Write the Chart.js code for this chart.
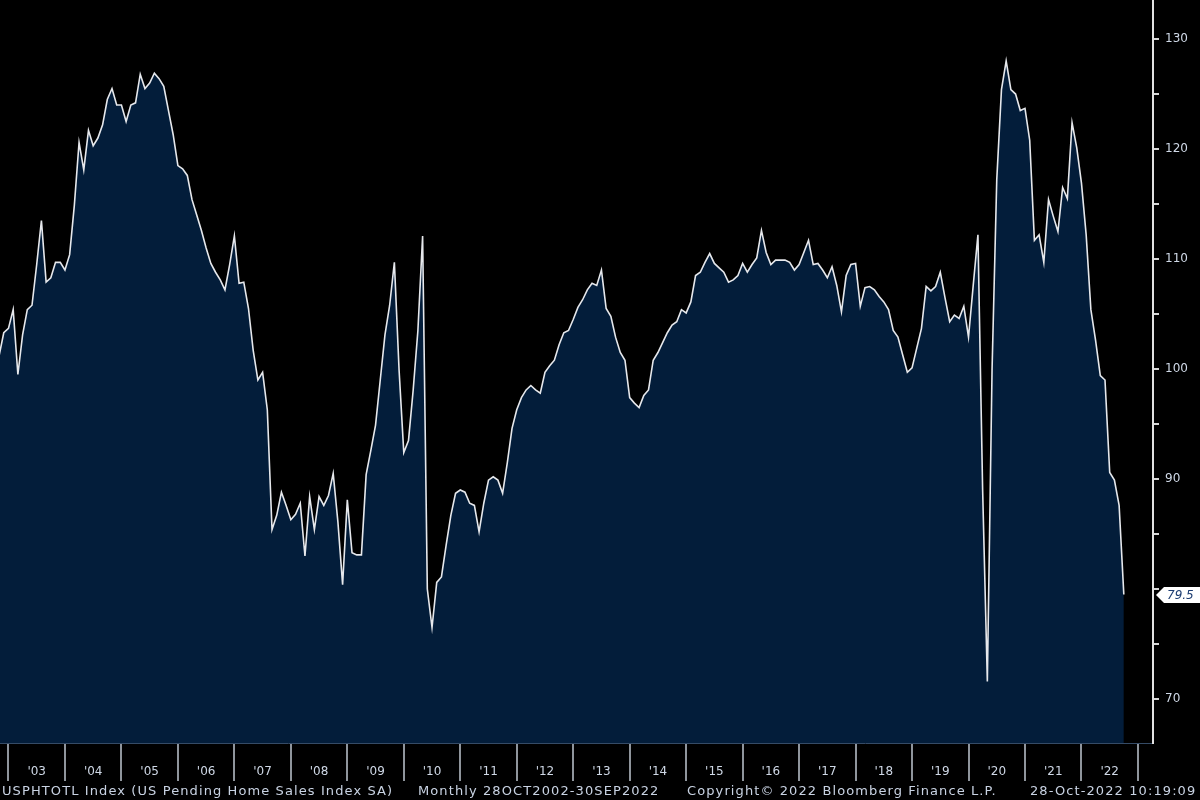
<!DOCTYPE html>
<html><head><meta charset="utf-8">
<script src="https://cdn.jsdelivr.net/npm/chart.js@4.4.1/dist/chart.umd.min.js"></script>
<style>
html,body{margin:0;padding:0;background:#000;width:1200px;height:800px;overflow:hidden}
#wrap{position:relative;width:1200px;height:800px}
canvas{display:block}
.ft{position:absolute;top:783px;font:13px "DejaVu Sans",sans-serif;letter-spacing:1.1px;color:#c9d3e3;white-space:nowrap;line-height:16px}
</style></head><body>
<div id="wrap"><canvas id="c" width="1200" height="800"></canvas>
<span class="ft" style="left:2px">USPHTOTL Index (US Pending Home Sales Index SA)</span>
<span class="ft" style="left:418px">Monthly 28OCT2002-30SEP2022</span>
<span class="ft" style="left:687px">Copyright© 2022 Bloomberg Finance L.P.</span>
<span class="ft" style="left:1030px">28-Oct-2022 10:19:09</span>
</div>
<script>
// Monthly series, first point Oct 2002, last point Sep 2022
const firstMonth = '2002-10';
const values = [
101.2,103.3,103.7,105.4,99.5,103.1,105.4,105.8,109.5,113.5,107.9,108.3,
109.7,109.7,109.0,110.4,114.9,120.6,118.1,121.7,120.3,121.0,122.2,124.5,
125.5,124.0,124.0,122.5,124.0,124.2,126.8,125.5,126.0,126.9,126.4,125.7,
123.5,121.3,118.5,118.2,117.6,115.4,114.0,112.6,111.0,109.6,108.8,108.1,
107.2,109.5,112.1,107.8,107.9,105.5,101.7,99.0,99.7,96.3,85.4,86.7,
88.8,87.6,86.3,86.8,87.8,83.0,88.4,85.4,88.4,87.6,88.5,90.5,
86.1,80.4,88.1,83.3,83.1,83.1,90.4,92.6,94.9,99.0,103.1,105.8,
109.7,99.9,92.4,93.5,98.1,103.5,112.1,80.0,76.5,80.6,81.1,84.0,
86.7,88.7,89.0,88.8,87.8,87.6,85.2,87.8,89.9,90.2,89.9,88.7,
91.5,94.6,96.3,97.4,98.1,98.5,98.1,97.8,99.7,100.3,100.8,102.2,
103.3,103.5,104.5,105.6,106.3,107.2,107.8,107.6,109.0,105.5,104.8,102.9,
101.5,100.8,97.4,96.9,96.5,97.6,98.1,100.8,101.5,102.4,103.3,104.0,
104.3,105.4,105.1,106.1,108.5,108.8,109.7,110.5,109.6,109.2,108.8,107.9,
108.1,108.5,109.6,108.8,109.5,110.1,112.6,110.6,109.5,109.9,109.9,109.9,
109.7,109.0,109.5,110.6,111.7,109.5,109.6,109.0,108.3,109.3,107.6,105.2,
108.5,109.5,109.6,105.7,107.4,107.5,107.2,106.6,106.1,105.4,103.5,102.9,
101.3,99.7,100.1,101.9,103.7,107.5,107.1,107.5,108.8,106.5,104.3,104.9,
104.6,105.7,102.9,107.6,112.2,89.0,71.6,99.9,117.2,125.4,128.0,125.4,
125.0,123.5,123.7,120.8,111.7,112.2,109.7,115.4,113.9,112.5,116.5,115.5,
122.4,120.1,116.9,112.2,105.4,102.6,99.4,99.0,90.6,89.9,87.6,79.5
];
const yearLabels = ["'03","'04","'05","'06","'07","'08","'09","'10","'11","'12",
                    "'13","'14","'15","'16","'17","'18","'19","'20","'21","'22"];
const yTicks = [70,75,80,85,90,95,100,105,110,115,120,125,130];

// month index of each Jan 1 (separator) relative to first point (Oct 2002 month-end)
const sepIndex = k => 2 + 12 * k;
const midIndex = k => 8 + 12 * k;
const isSep = v => Math.abs(((v - 2) % 12)) < 1e-6;
const lastValue = values[values.length - 1];

const points = values.map((v, i) => ({x: i, y: v}));

const lastTag = {
  id: 'lastTag',
  afterDraw(chart) {
    const ctx = chart.ctx;
    const ys = chart.scales.y;
    const y = Math.round(ys.getPixelForValue(lastValue));
    const x0 = ys.left + 3;
    ctx.save();
    ctx.fillStyle = '#ffffff';
    ctx.beginPath();
    ctx.moveTo(x0, y);
    ctx.lineTo(x0 + 8, y - 8);
    ctx.lineTo(1200, y - 8);
    ctx.lineTo(1200, y + 8);
    ctx.lineTo(x0 + 8, y + 8);
    ctx.closePath();
    ctx.fill();
    ctx.fillStyle = '#1d3d72';
    ctx.font = 'italic 12px "DejaVu Sans", sans-serif';
    ctx.textBaseline = 'middle';
    ctx.textAlign = 'left';
    ctx.fillText(lastValue.toFixed(1), x0 + 11, y + 1);
    ctx.restore();
  }
};

new Chart(document.getElementById('c'), {
  type: 'line',
  data: {
    datasets: [{
      data: points,
      borderColor: '#e6e8ec',
      borderWidth: 1.6,
      backgroundColor: '#031d3a',
      fill: 'start',
      pointRadius: 0,
      tension: 0
    }]
  },
  options: {
    responsive: false,
    animation: false,
    devicePixelRatio: 1,
    layout: { padding: 0 },
    plugins: { legend: { display: false }, tooltip: { enabled: false } },
    scales: {
      x: {
        type: 'linear',
        position: 'bottom',
        min: 0.2,
        max: 245.2,
        afterBuildTicks: s => {
          const t = [];
          for (let k = 0; k <= yearLabels.length; k++) t.push({value: sepIndex(k)});
          for (let k = 0; k < yearLabels.length; k++) t.push({value: midIndex(k)});
          t.sort((a, b) => a.value - b.value);
          s.ticks = t;
        },
        ticks: {
          autoSkip: false, maxRotation: 0, minRotation: 0,
          color: '#cfd8e6',
          font: { family: 'DejaVu Sans', size: 12 },
          padding: -16,
          callback: v => {
            const k = (v - 8) / 12;
            return Number.isInteger(k) ? yearLabels[k] : '';
          }
        },
        grid: {
          drawOnChartArea: false,
          drawTicks: true,
          tickLength: 38,
          lineWidth: 2,
          color: c => (c.tick && isSep(c.tick.value)) ? '#8f959c' : 'rgba(0,0,0,0)'
        },
        border: { display: true, color: '#354b66', width: 1 },
        afterFit: s => { s.height = 57; s.paddingLeft = 0; s.paddingRight = 0; }
      },
      y: {
        position: 'right',
        min: 66,
        max: 133.55,
        afterBuildTicks: s => { s.ticks = yTicks.map(v => ({value: v})); },
        ticks: {
          color: '#cfd8e6',
          font: { family: 'DejaVu Sans', size: 12 },
          padding: 6,
          callback: v => (v % 10 === 0 && Math.abs(v - lastValue) > 2 ? String(v) : '')
        },
        grid: {
          drawOnChartArea: false,
          drawTicks: true,
          tickLength: 6,
          lineWidth: 2,
          color: '#d8d8d8'
        },
        border: { display: true, color: '#e2e2e2', width: 2 },
        afterFit: s => { s.width = 47; s.paddingTop = 0; s.paddingBottom = 0; }
      }
    }
  },
  plugins: [lastTag]
});
</script>
</body></html>
